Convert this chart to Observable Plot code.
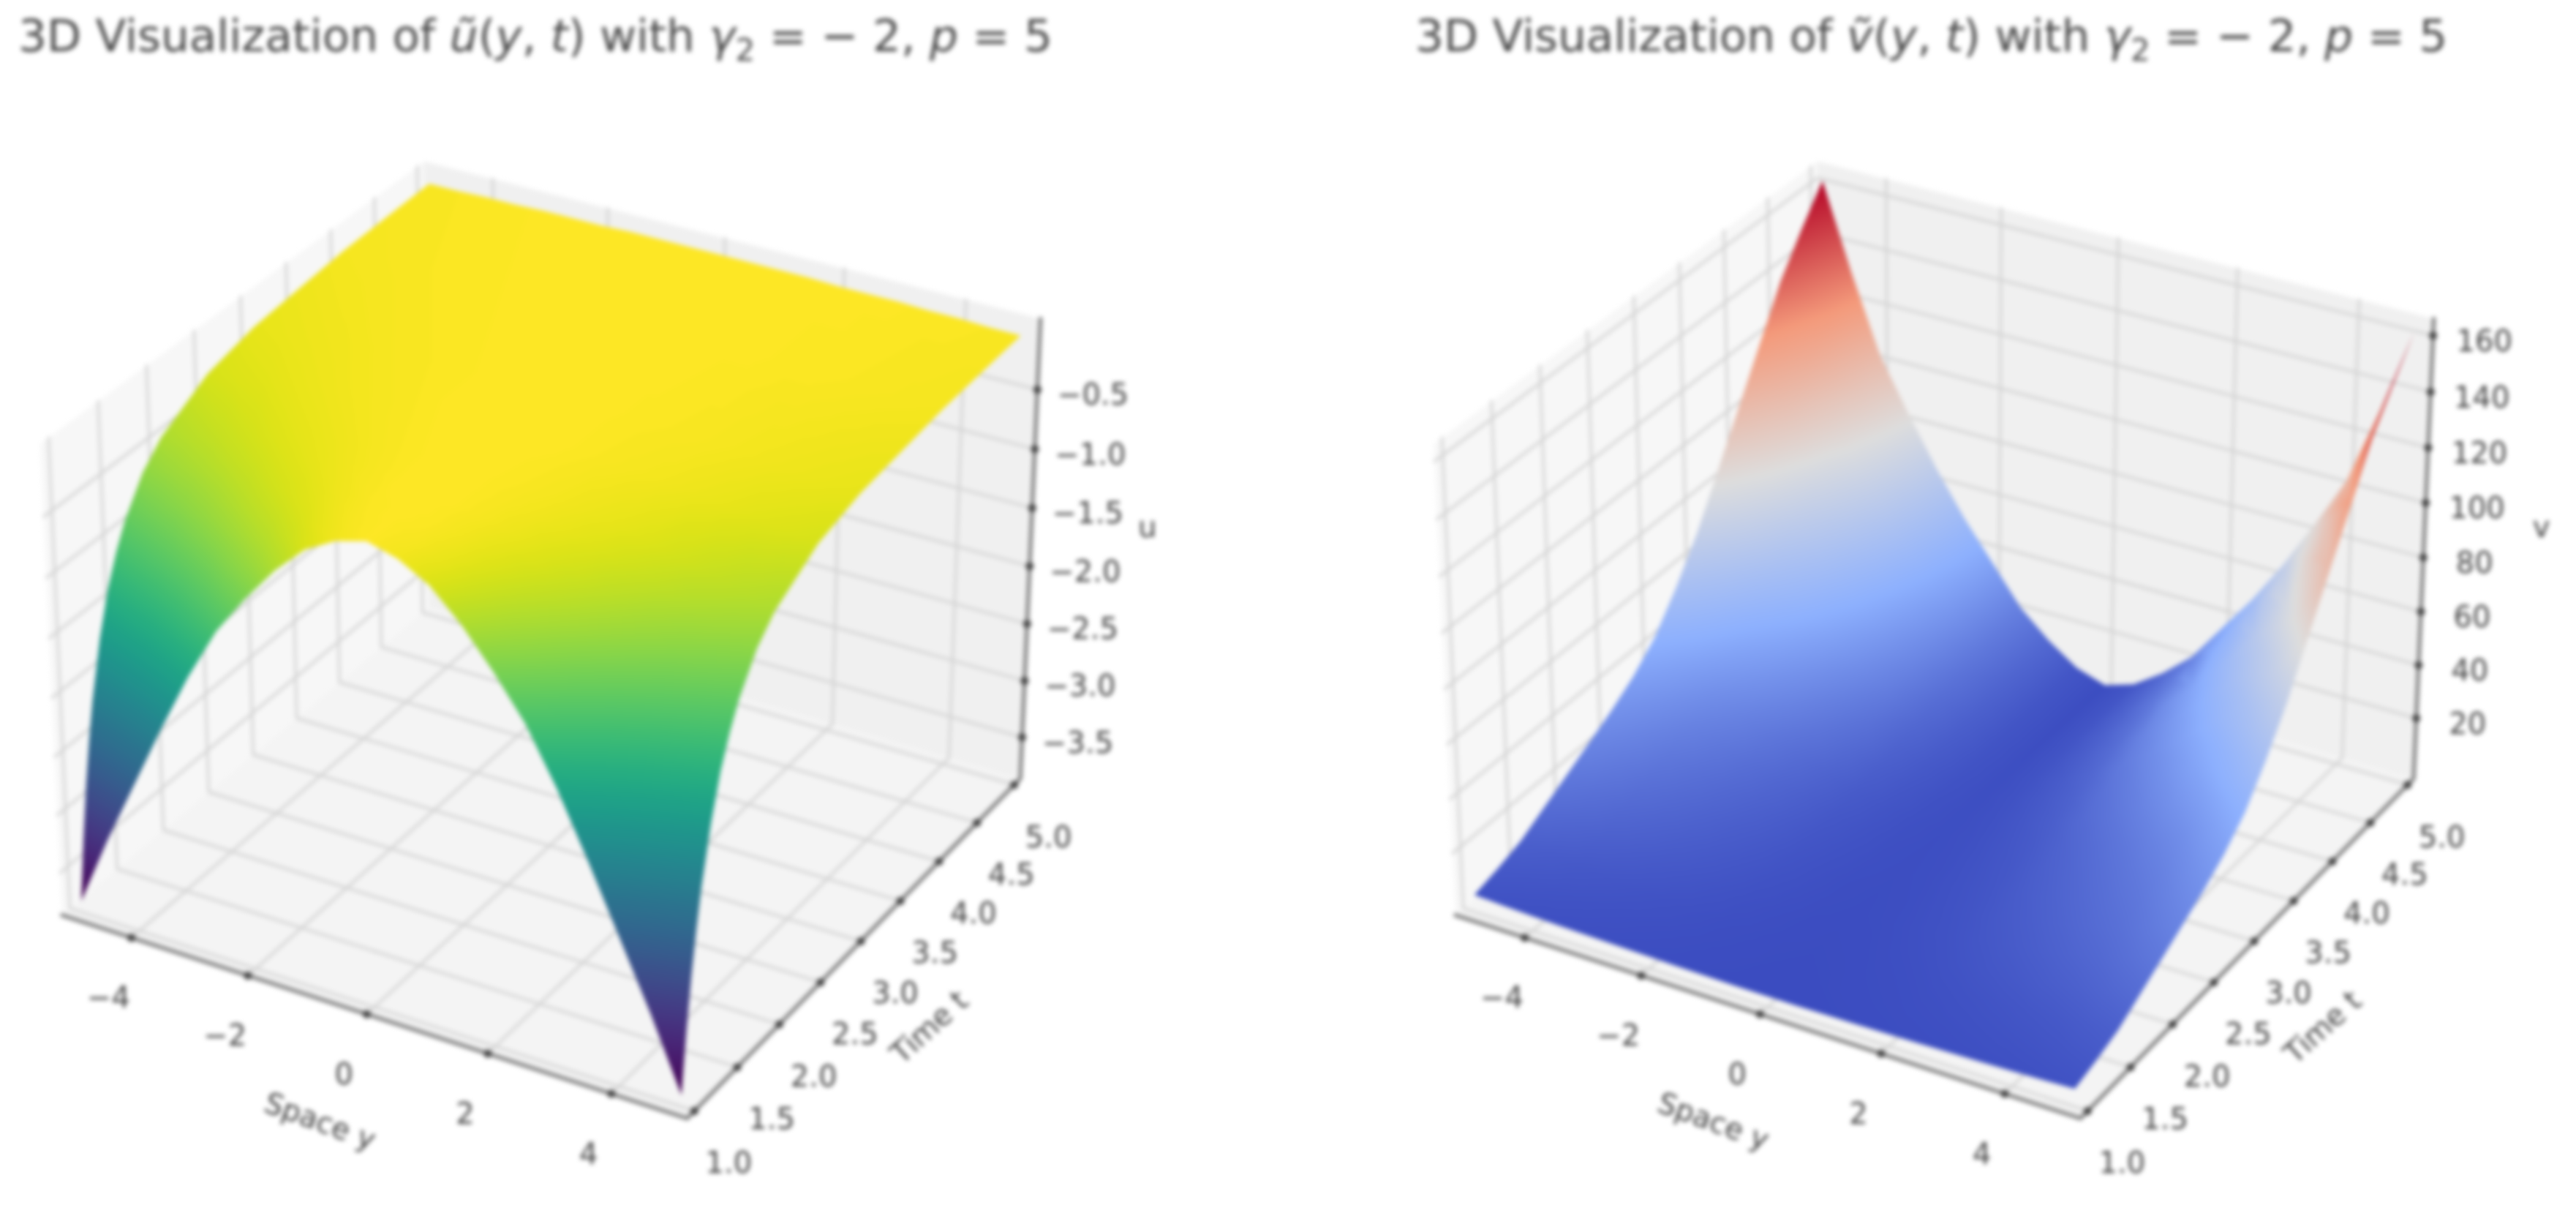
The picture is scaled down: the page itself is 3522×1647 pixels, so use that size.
<!DOCTYPE html>
<html><head><meta charset="utf-8">
<script src="https://cdn.jsdelivr.net/npm/d3@7"></script>
<script src="https://cdn.jsdelivr.net/npm/@observablehq/plot@0.6"></script>
<style>
html,body{margin:0;padding:0;background:#fff;width:3522px;height:1647px;overflow:hidden}
#row{display:flex;width:3522px}
.fig{position:relative;width:1761px;height:1647px}
.title{position:absolute;top:13px;white-space:nowrap;font:61.2px "DejaVu Sans";color:#4a4a4a;filter:blur(3px)}
.title sub{font-size:42px;line-height:0}
.fig svg{position:absolute;left:0;top:130px;filter:blur(3px)}
</style></head><body><div id="row"></div>
<script>
// Values. The surfaces are mirror-symmetric in y, so each row lists y = 0 ... 5.
const spaceAbs = [0,0.5,1,1.5,2,2.5,3,3.5,4,4.5,5];
const timeU = [1,1.05,1.1,1.15,1.2,1.3,1.4,1.5,1.6,1.8,2,2.5,3,4,5];
const uT100 = [-0.01,-0.08,-0.22,-0.46,-0.76,-1.10,-1.55,-2.07,-2.62,-3.17,-3.77];
const uT105 = [-0.01,-0.07,-0.19,-0.40,-0.66,-0.95,-1.34,-1.79,-2.26,-2.74,-3.26];
const uT110 = [-0.01,-0.06,-0.17,-0.35,-0.57,-0.83,-1.16,-1.55,-1.97,-2.38,-2.83];
const uT115 = [-0.01,-0.05,-0.14,-0.30,-0.50,-0.72,-1.02,-1.36,-1.72,-2.09,-2.48];
const uT120 = [-0.01,-0.04,-0.13,-0.27,-0.44,-0.64,-0.90,-1.20,-1.52,-1.84,-2.18];
const uT130 = [-0.01,-0.03,-0.10,-0.21,-0.35,-0.50,-0.71,-0.94,-1.19,-1.44,-1.72];
const uT140 = [0,-0.02,-0.08,-0.17,-0.28,-0.40,-0.56,-0.75,-0.95,-1.15,-1.37];
const uT150 = [0,-0.02,-0.07,-0.14,-0.22,-0.33,-0.46,-0.61,-0.78,-0.94,-1.12];
const uT160 = [0,-0.01,-0.05,-0.11,-0.19,-0.27,-0.38,-0.51,-0.64,-0.77,-0.92];
const uT180 = [0,-0.01,-0.04,-0.08,-0.13,-0.19,-0.27,-0.35,-0.45,-0.54,-0.64];
const uT200 = [0,-0.01,-0.03,-0.06,-0.10,-0.14,-0.19,-0.26,-0.33,-0.40,-0.47];
const uT250 = [0,0,-0.01,-0.03,-0.05,-0.07,-0.10,-0.13,-0.17,-0.20,-0.24];
const uT300 = [0,0,-0.01,-0.02,-0.03,-0.04,-0.06,-0.08,-0.10,-0.12,-0.14];
const uT400 = [0,0,0,-0.01,-0.01,-0.02,-0.02,-0.03,-0.04,-0.05,-0.06];
const uT500 = [0,0,0,0,-0.01,-0.01,-0.01,-0.02,-0.02,-0.03,-0.03];
const timeV = [1,1.25,1.5,1.75,2,2.25,2.5,2.75,3,3.25,3.5,3.75,4,4.25,4.5,4.75,5];
const vT100 = [1,1.05,1.16,1.3,1.52,1.74,1.99,2.27,2.57,3.01,3.5];
const vT125 = [1.1,1.2,1.4,1.7,2.1,2.5,3,3.6,4.2,5,6];
const vT150 = [1.2,1.3,1.7,2.1,2.8,3.5,4.3,5.2,6.1,7.5,9];
const vT175 = [1.3,1.5,2.1,2.8,3.9,5.1,6.3,7.8,9.3,11.5,14];
const vT200 = [1.5,1.8,2.6,3.6,5.1,6.7,8.4,10.4,12.5,15.6,19];
const vT225 = [1.6,2,3,4.3,6.3,8.2,10.5,13,15.7,19.6,24];
const vT250 = [1.8,2.3,3.5,5,7.5,9.9,12.6,15.6,18.9,23.7,29];
const vT275 = [1.9,2.5,4,5.8,8.8,11.7,15,18.7,22.7,28.5,35];
const vT300 = [2,2.8,4.6,6.9,10.5,14.1,18.2,22.9,27.8,35,43];
const vT325 = [2,3.2,5.5,8.5,13.2,17.8,23.1,29,35.4,44.7,55];
const vT350 = [2,3.6,6.5,10.2,16.2,22,28.7,36.2,44.3,56,69];
const vT375 = [2,4,7.6,12.4,19.9,27.2,35.6,45,55,69.7,86];
const vT400 = [1.9,4.3,8.7,14.5,23.5,32.3,42.4,53.7,65.8,83.4,103];
const vT425 = [1.8,4.6,9.8,16.7,27.1,37.4,49.2,62.4,76.5,97.1,120];
const vT450 = [1.7,4.8,10.8,18.8,30.7,42.5,56,71.1,87.2,110.8,137];
const vT475 = [1.6,4.9,11.7,20.4,33.5,46.4,61.2,77.8,95.4,121.3,150];
const vT500 = [1.5,5,12.5,22,36,50,66,84,103,131,162];
const uRows = [uT100,uT105,uT110,uT115,uT120,uT130,uT140,uT150,uT160,uT180,uT200,uT250,uT300,uT400,uT500];
const vRows = [vT100,vT125,vT150,vT175,vT200,vT225,vT250,vT275,vT300,vT325,vT350,vT375,vT400,vT425,vT450,vT475,vT500];
const yTicks = [-4,-2,0,2,4];
const tTicks = [1,1.5,2,2.5,3,3.5,4,4.5,5];
const uTicks = [-3.5,-3,-2.5,-2,-1.5,-1,-0.5];
const vTicks = [20,40,60,80,100,120,140,160];
const yLim = [-5.208,5.208], tLim = [0.9167,5.0833], uLim = [-3.87,0.09], vLim = [-3,166];
const coolwarm = ["#3b4cc0","#8db0fe","#dddddd","#f49a7b","#b40426"];

// matplotlib's elev=30, azim=-60 view with perspective distance 10 and box aspect 4:4:3
const S = 1.1429, H = 0.8571;
function proj(yv, tv, zv, zLim){
  const px=((yv-yLim[0])/(yLim[1]-yLim[0])-.5)*S, py=((tv-tLim[0])/(tLim[1]-tLim[0])-.5)*S, pz=((zv-zLim[0])/(zLim[1]-zLim[0])-.5)*H;
  const X=.866*px+.5*py, Y=-.25*px+.433*py+.866*pz, d=.433*px-.75*py+.5*pz, f=10/(10-d);
  return {x:X*f,y:Y*f,d};
}
function chart(o){
  const {rows,times,zLim,zTicks,zLabel,color,x0,zDx} = o;
  const P=(a,b,c)=>proj(a,b,c,zLim);
  const [y0,y1]=yLim,[t0,t1]=tLim,[z0,z1]=zLim;
  const ys=[...spaceAbs.slice(1).reverse().map(d=>-d),...spaceAbs];
  const full=rows.map(r=>[...r.slice(1).reverse(),...r]);
  const samples=[];
  times.forEach((t,i)=>ys.forEach((y,j)=>samples.push({...P(y,t,full[i][j]),val:full[i][j]})));
  const cells=[];
  for(let i=0;i<times.length-1;i++)for(let j=0;j<ys.length-1;j++)
    cells.push([[j,i],[j+1,i],[j+1,i+1],[j,i+1]].map(([a,b])=>P(ys[a],times[b],full[b][a])));
  const poly=(pts,id)=>pts.map(p=>({...P(...p),id}));
  const panes=[
    {pts:[[y0,t0,z0],[y0,t1,z0],[y0,t1,z1],[y0,t0,z1],[y0,t0,z0]],f:"#f7f7f7"},
    {pts:[[y0,t1,z0],[y1,t1,z0],[y1,t1,z1],[y0,t1,z1],[y0,t1,z0]],f:"#f0f0f0"},
    {pts:[[y0,t0,z0],[y1,t0,z0],[y1,t1,z0],[y0,t1,z0],[y0,t0,z0]],f:"#f4f4f4"}
  ];
  const pane=i=>Plot.line(poly(panes[i].pts,i),{x:"x",y:"y",fill:panes[i].f,stroke:"none"});
  let gid=0; const grid=[];
  const seg=(...pts)=>{gid++;pts.forEach(p=>grid.push({...P(...p),id:gid}));};
  for(const v of yTicks){seg([v,t0,z0],[v,t1,z0],[v,t1,z1]);}
  for(const v of tTicks){seg([y1,v,z0],[y0,v,z0],[y0,v,z1]);}
  for(const v of zTicks){seg([y0,t0,v],[y0,t1,v],[y1,t1,v]);}
  const frame=[
    {...P(y0,t0,z0),id:1},{...P(y1,t0,z0),id:1},{...P(y1,t1,z0),id:1},{...P(y1,t1,z1),id:1}
  ];
  const yT=yTicks.map(v=>({...P(v,t0,z0),label:v<0?"\u2212"+(-v):String(v)}));
  const tT=tTicks.map(v=>({...P(y1,v,z0),label:v.toFixed(1)}));
  const zT=zTicks.map(v=>({...P(y1,t1,v),label:(v<0?"\u2212":"")+(zLabel==="v"?Math.abs(v):Math.abs(v).toFixed(1))}));
  const font={fontFamily:"DejaVu Sans",fill:"#444",fontSize:40};
  const toX=p=>(p-x0)/857, toY=p=>(844-p)/857;
  const svg=Plot.plot({
    width:1761,height:1517,margin:0,
    style:{background:"transparent",overflow:"visible"},
    x:{axis:null,domain:[toX(0),toX(1761)],range:[0,1761]},
    y:{axis:null,domain:[toY(130),toY(1647)],range:[0,1517]},
    color,
    marks:[
      pane(0),pane(1),pane(2),
      Plot.line(grid,{x:"x",y:"y",z:"id",stroke:"#d4d4d4",strokeWidth:3.5}),
      Plot.raster(samples,{x:"x",y:"y",fill:"val",interpolate:"barycentric"}),
      Plot.line(frame,{x:"x",y:"y",stroke:"#7a7a7a",strokeWidth:5}),
      Plot.dot([...yT,...tT,...zT],{x:"x",y:"y",r:5.5,fill:"#444"}),
      Plot.text(yT,{x:"x",y:"y",text:"label",dx:-31,dy:83,...font}),
      Plot.text(tT,{x:"x",y:"y",text:"label",dx:47,dy:72,...font}),
      Plot.text(zT,{x:"x",y:"y",text:"label",dx:zDx,dy:8,...font}),
      Plot.text([P(0,t0,z0)],{x:"x",y:"y",text:()=>"Space y",dx:-64,dy:147,rotate:20,...font}),
      Plot.text([P(y1,2.6,z0)],{x:"x",y:"y",text:()=>"Time t",dx:138,dy:73,rotate:-42,...font}),
      Plot.text([P(y1,t1,(z0+z1)/2)],{x:"x",y:"y",text:()=>zLabel,dx:o.labelDx,dy:-35,...font})
    ]
  });
  // Limit the smooth colour field to the surface: one clip path made of its projected quads.
  const sx=svg.scale("x"), sy=svg.scale("y");
  const d=cells.map(c=>{
    let pts=c.map(p=>[sx.apply(p.x),sy.apply(p.y)]);
    if(d3.polygonArea(pts)<0) pts=pts.reverse();
    return "M"+pts.map(p=>p.map(v=>v.toFixed(2)).join(",")).join("L")+"Z";
  }).join("");
  const ns="http://www.w3.org/2000/svg";
  const cp=document.createElementNS(ns,"clipPath"); cp.id="surface-"+zLabel;
  const path=document.createElementNS(ns,"path"); path.setAttribute("d",d); cp.appendChild(path);
  svg.insertBefore(cp,svg.firstChild);
  svg.querySelector("image").setAttribute("clip-path","url(#"+cp.id+")");
  return svg;
}
const row=document.getElementById("row");
function add(titleHtml,left,opts){
  const fig=document.createElement("div");fig.className="fig";
  const t=document.createElement("div");t.className="title";t.style.left=left+"px";t.innerHTML=titleHtml;
  fig.appendChild(t);fig.appendChild(chart(opts));row.appendChild(fig);
}
add('3D Visualization of <i>u\u0303</i>(<i>y</i>, <i>t</i>) with <i>\u03b3</i><sub>2</sub> = \u2212 2, <i>p</i> = 5',25,{
  rows:uRows,times:timeU,zLim:uLim,zTicks:uTicks,zLabel:"u",x0:751,zDx:76,labelDx:160,
  color:{type:"linear",scheme:"viridis",domain:[-3.77,0]}
});
add('3D Visualization of <i>v\u0303</i>(<i>y</i>, <i>t</i>) with <i>\u03b3</i><sub>2</sub> = \u2212 2, <i>p</i> = 5',174,{
  rows:vRows,times:timeV,zLim:vLim,zTicks:vTicks,zLabel:"v",x0:895,zDx:70,labelDx:161,
  color:{type:"linear",domain:[1,41.25,81.5,121.75,162],range:coolwarm}
});
</script></body></html>
